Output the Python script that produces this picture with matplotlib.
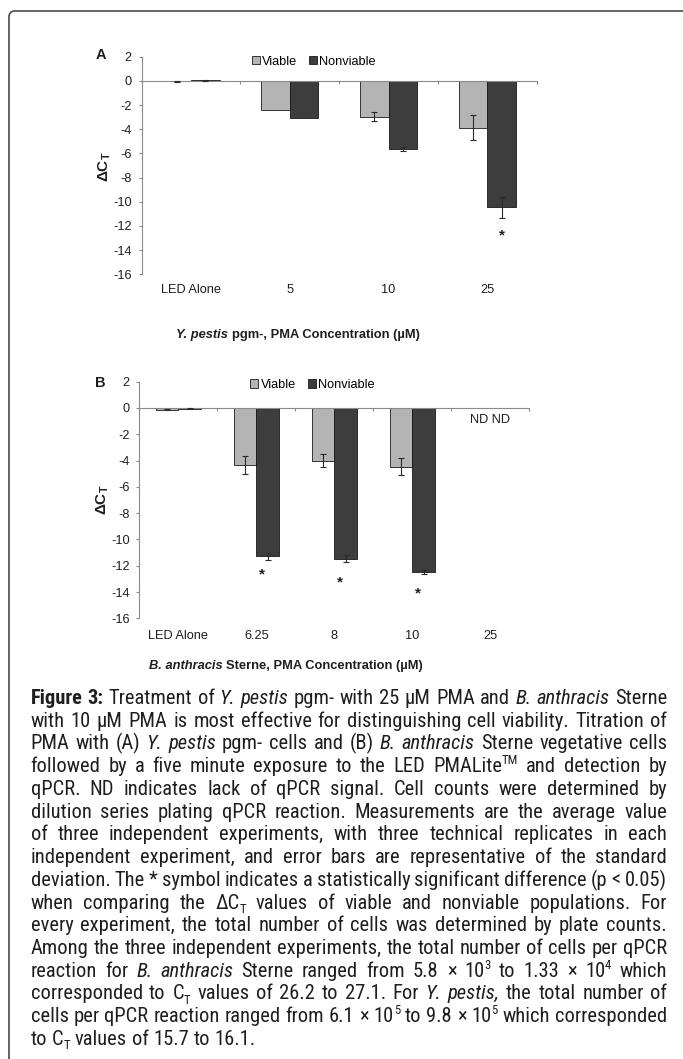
import os
import re
import numpy as np
import matplotlib
matplotlib.use("Agg")
import matplotlib.pyplot as plt
from matplotlib import font_manager
from matplotlib.font_manager import FontProperties
from matplotlib.patches import Patch, FancyBboxPatch
from matplotlib.transforms import IdentityTransform

# ---- data, panel A (Y. pestis pgm-)
cats_a = ["LED Alone", "5", "10", "25"]
viable_a = [-0.05, -2.37, -2.95, -3.88]
viable_a_err = [0.03, 0.0, 0.40, 1.03]
nonviable_a = [0.05, -3.06, -5.62, -10.47]
nonviable_a_err = [0.03, 0.0, 0.18, 0.87]
star_a = [None, None, None, -12.75]
nd_a = [False, False, False, False]

# ---- data, panel B (B. anthracis Sterne), 25 uM = no signal (ND)
cats_b = ["LED Alone", "6.25", "8", "10", "25"]
viable_b = [-0.12, -4.31, -4.00, -4.46, np.nan]
viable_b_err = [0.05, 0.68, 0.48, 0.66, np.nan]
nonviable_b = [-0.05, -11.29, -11.46, -12.45, np.nan]
nonviable_b_err = [0.03, 0.24, 0.29, 0.15, np.nan]
star_b = [None, -12.68, -13.30, -14.10, None]
nd_b = [False, False, False, False, True]

yticks = list(range(-16, 3, 2))
legend_labels = ["Viable", "Nonviable"]

caption_lines = [
    "<b>Figure 3:</b> Treatment of <i>Y. pestis</i> pgm- with 25 µM PMA and <i>B. anthracis</i> Sterne",
    "with 10 µM PMA is most effective for distinguishing cell viability. Titration of",
    "PMA with (A) <i>Y. pestis</i> pgm- cells and (B) <i>B. anthracis</i> Sterne vegetative cells",
    "followed by a five minute exposure to the LED PMALite<sup>TM</sup> and detection by",
    "qPCR. ND indicates lack of qPCR signal. Cell counts were determined by",
    "dilution series plating qPCR reaction. Measurements are the average value",
    "of three independent experiments, with three technical replicates in each",
    "independent experiment, and error bars are representative of the standard",
    "deviation. The * symbol indicates a statistically significant difference (p < 0.05)",
    "when comparing the ΔC<sub>T</sub> values of viable and nonviable populations. For",
    "every experiment, the total number of cells was determined by plate counts.",
    "Among the three independent experiments, the total number of cells per qPCR",
    "reaction for <i>B. anthracis</i> Sterne ranged from 5.8 × 10<sup>3</sup> to 1.33 × 10<sup>4</sup> which",
    "corresponded to C<sub>T</sub> values of 26.2 to 27.1. For <i>Y. pestis,</i> the total number of",
    "cells per qPCR reaction ranged from 6.1 × 10<sup>5</sup> to 9.8 × 10<sup>5</sup> which corresponded",
    "to C<sub>T</sub> values of 15.7 to 16.1.",
]

# ---- style
VIABLE_C = "#b4b4b4"
NONV_C = "#3d3d3d"
EDGE_C = "#1a1a1a"
SPINE_C = "#8a8a8a"
TEXT_C = "#1e1e1e"
W, H = 683, 1059

plt.rcParams["font.family"] = ["Liberation Sans", "DejaVu Sans"]
plt.rcParams["axes.unicode_minus"] = False
plt.rcParams["mathtext.fontset"] = "custom"
plt.rcParams["mathtext.rm"] = "Liberation Sans"
plt.rcParams["mathtext.bf"] = "Liberation Sans:bold"


def wnum(w):
    if isinstance(w, str):
        return font_manager.weight_dict.get(w, 400)
    return w


def narrow_fonts():
    # look for an Arial-Narrow-like face among installed fonts
    prefs = ["liberation sans narrow", "arial narrow", "roboto condensed",
             "noto sans condensed", "dejavu sans condensed", "open sans condensed"]
    groups = {}
    for f in font_manager.fontManager.ttflist:
        key = f.name.lower()
        st = str(f.stretch).lower()
        fn = os.path.basename(f.fname).lower()
        if "semi" in st or "semi" in fn or "extra" in st or "extracond" in fn or "ultra" in st:
            continue
        if "condensed" in st or "condensed" in fn or "narrow" in fn:
            if "narrow" not in key and "condensed" not in key:
                key = key + " condensed"
        groups.setdefault(key, []).append(f)
    for p in prefs:
        if p in groups:
            return groups[p]
    return None


NARROW = narrow_fonts()


def narrow_file(bold, italic):
    ital = [f for f in NARROW if (f.style in ("italic", "oblique")) == italic] or NARROW
    target = 700 if bold else 400
    return min(ital, key=lambda f: abs(wnum(f.weight) - target)).fname


def cap_props(style, size):
    s = size * 0.62 if style in ("sub", "sup") else size
    bold = style in ("b", "bi")
    italic = style in ("i", "bi")
    if NARROW:
        return dict(fontproperties=FontProperties(fname=narrow_file(bold, italic), size=s), color=TEXT_C)
    return dict(family="Liberation Sans", fontsize=s, fontweight="bold" if bold else "normal",
                fontstyle="italic" if italic else "normal", color=TEXT_C)


def chart_props(style, size):
    return dict(family=["Liberation Sans", "DejaVu Sans"], fontsize=size, color=TEXT_C,
                fontweight="bold" if style in ("b", "bi") else "normal",
                fontstyle="italic" if style in ("i", "bi") else "normal")


fig = plt.figure(figsize=(W / 100, H / 100), dpi=100)
fig.patch.set_facecolor("white")
renderer = fig.canvas.get_renderer()
PX = IdentityTransform()

# frame (top + left edge with rounded corner)
fig.patches.append(FancyBboxPatch((9, -60), 800, H - 11 + 60, boxstyle="round,pad=0,rounding_size=6",
                                  transform=PX, fill=False, edgecolor="#4a4a4a", linewidth=1.2))


def parse(line):
    runs = []
    pos = 0
    for m in re.finditer(r"<(b|i|sub|sup)>(.*?)</\1>", line):
        if m.start() > pos:
            runs.append((line[pos:m.start()], "n"))
        runs.append((m.group(2), m.group(1)))
        pos = m.end()
    if pos < len(line):
        runs.append((line[pos:], "n"))
    words = [[]]
    for txt, st in runs:
        for k, p in enumerate(txt.split(" ")):
            if k > 0:
                words.append([])
            if p:
                words[-1].append((p, st))
    return [w for w in words if w]


def make_words(words, y, size, props):
    out = []
    for w in words:
        items = []
        for txt, st in w:
            t = fig.text(0, y, txt, transform=PX, va="baseline", ha="left", **props(st, size))
            items.append((t, st, t.get_window_extent(renderer).width))
        out.append(items)
    return out


def place_words(objs, x0, y, gap, size):
    spx = size * 100 / 72
    x = x0
    for items in objs:
        for t, st, wd in items:
            dy = -0.2 * spx if st == "sub" else (0.38 * spx if st == "sup" else 0)
            t.set_position((x, y + dy))
            x += wd
        x += gap
    return x - gap


# ---- caption, justified between x0 and x1; size fitted to the tightest line
cap_x0, cap_x1 = 30.5, 667
parsed = [parse(l) for l in caption_lines]
cap_size = 16.0
need = 0
for words in parsed[:-1]:
    objs = make_words(words, 0, cap_size, cap_props)
    total = sum(wd for items in objs for _, _, wd in items)
    need = max(need, total + (len(objs) - 1) * cap_size * 100 / 72 * 0.2)
    for items in objs:
        for t, _, _ in items:
            t.remove()
cap_size = min(cap_size, cap_size * (cap_x1 - cap_x0) / need)

for i, words in enumerate(parsed):
    y = H - (704 + i * 22.73)
    objs = make_words(words, y, cap_size, cap_props)
    total = sum(wd for items in objs for _, _, wd in items)
    if i < len(parsed) - 1:
        gap = (cap_x1 - cap_x0 - total) / (len(objs) - 1)
    else:
        gap = cap_size * 100 / 72 * 0.23
    place_words(objs, cap_x0, y, gap, cap_size)


def centered_label(runs, xc, y_top, size):
    words = [[(txt, st)] for txt, st in runs]
    objs = make_words(words, H - y_top, size, chart_props)
    gap = size * 100 / 72 * 0.278
    total = sum(wd for items in objs for _, _, wd in items) + gap * (len(objs) - 1)
    place_words(objs, xc - total / 2, H - y_top, gap, size)


def draw_panel(rect, cats, viable, viable_err, nonviable, nonviable_err, stars, nd,
               letter, letter_xy, ylab_xy, leg_xy, label_y, star_dx):
    ax = fig.add_axes(rect)
    n = len(cats)
    x = np.arange(n)
    w = 0.29
    ax.bar(x - w / 2, viable, w, color=VIABLE_C, edgecolor=EDGE_C, linewidth=0.6, zorder=2)
    ax.bar(x + w / 2, nonviable, w, color=NONV_C, edgecolor=EDGE_C, linewidth=0.6, zorder=2)
    for xs, vals, errs in [(x - w / 2, viable, viable_err), (x + w / 2, nonviable, nonviable_err)]:
        vals = np.asarray(vals, float)
        errs = np.asarray(errs, float)
        m = np.isfinite(vals) & (np.nan_to_num(errs) > 0)
        ax.errorbar(xs[m], vals[m], yerr=errs[m], fmt="none", ecolor="#2a2a2a",
                    elinewidth=0.8, capsize=2.5, capthick=0.8, zorder=3)
    for i, s in enumerate(stars):
        if s is not None:
            ax.text(i + w / 2 + star_dx, s, "*", ha="center", va="center",
                    fontsize=11, fontweight="bold", color=TEXT_C)
    for i, flag in enumerate(nd):
        if flag:
            ax.text(i, -0.95, "ND ND", ha="center", va="center", fontsize=9.2, color=TEXT_C)
    for i, c in enumerate(cats):
        ax.text(i, label_y, c, transform=ax.get_xaxis_transform(), ha="center", va="center",
                fontsize=9.2, color=TEXT_C)

    ax.set_xlim(-0.5, n - 0.5)
    ax.set_ylim(-16, 2)
    ax.set_yticks(yticks)
    ax.set_xticks(np.arange(-0.5, n, 1.0))
    ax.set_xticklabels([])
    for s in ["top", "right"]:
        ax.spines[s].set_visible(False)
    ax.spines["bottom"].set_position(("data", 0))
    for s in ["bottom", "left"]:
        ax.spines[s].set_color(SPINE_C)
        ax.spines[s].set_linewidth(0.8)
    ax.tick_params(axis="x", direction="out", length=2.5, width=0.8, color=SPINE_C)
    ax.tick_params(axis="y", direction="out", length=2.5, width=0.8, color=SPINE_C,
                   labelsize=9.2, labelcolor=TEXT_C, pad=4.5)
    ax.patch.set_alpha(0)

    handles = [Patch(facecolor=VIABLE_C, edgecolor=EDGE_C, linewidth=0.6),
               Patch(facecolor=NONV_C, edgecolor=EDGE_C, linewidth=0.6)]
    ax.legend(handles, legend_labels, loc="center", bbox_to_anchor=leg_xy, ncol=2, frameon=False,
              fontsize=9.2, handlelength=0.6, handleheight=0.6, handletextpad=0.18,
              columnspacing=0.95, borderpad=0, borderaxespad=0)

    fig.text(letter_xy[0], H - letter_xy[1], letter, transform=PX, ha="center", va="center",
             fontsize=10.5, fontweight="bold", color=TEXT_C)
    fig.text(ylab_xy[0], H - ylab_xy[1], r"$\mathbf{\Delta C_T}$", transform=PX, rotation=90,
             ha="center", va="center", fontsize=11, color=TEXT_C)
    return ax


draw_panel([141.7 / W, 1 - 274.3 / H, 395 / W, 217.6 / H], cats_a, viable_a, viable_a_err,
           nonviable_a, nonviable_a_err, star_a, nd_a, "A", (101, 55), (105, 167),
           (0.436, 0.977), -0.072, 0.0)
draw_panel([139.3 / W, 1 - 618.3 / H, 390 / W, 236.6 / H], cats_b, viable_b, viable_b_err,
           nonviable_b, nonviable_b_err, star_b, nd_b, "B", (100, 383), (102.7, 500),
           (0.444, 0.986), -0.075, -0.07)

centered_label([("Y. pestis", "bi"), ("pgm-, PMA Concentration (µM)", "b")], 298, 338, 9.3)
centered_label([("B. anthracis", "bi"), ("Sterne, PMA Concentration (µM)", "b")], 286, 669, 9.3)

fig.savefig("out.png", dpi=100, facecolor="white")
